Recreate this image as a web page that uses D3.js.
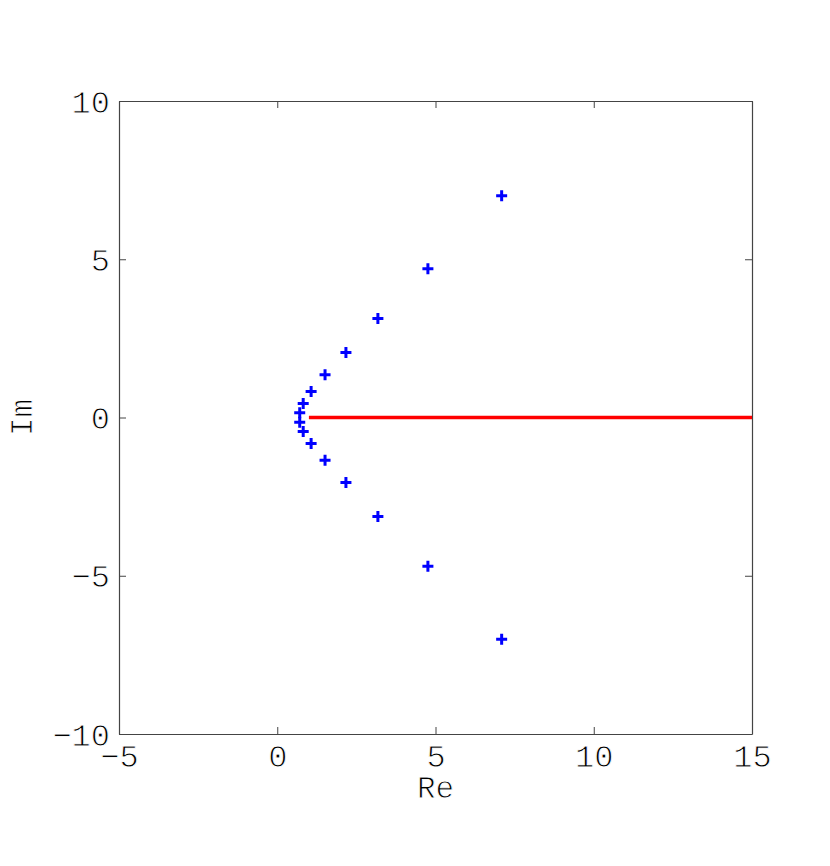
<!DOCTYPE html>
<html>
<head>
<meta charset="utf-8">
<script src="https://cdn.jsdelivr.net/npm/d3@7"></script>
<style>
  body { margin: 0; background: #fff; }
  text { font-family: "Liberation Mono", "DejaVu Sans Mono", monospace; fill: #000; }
  .thin { stroke: #fff; stroke-width: 0.9px; paint-order: fill; }
</style>
</head>
<body>
<svg id="chart"></svg>
<script>
// poles (blue +)
const poleRe = [7.09, 4.76, 3.18, 2.17, 1.51, 1.07, 0.82, 0.71, 0.71, 0.82, 1.07, 1.51, 2.17, 3.18, 4.76, 7.09];
const poleIm = [7.01, 4.70, 3.13, 2.05, 1.35, 0.82, 0.44, 0.15, -0.15, -0.44, -0.82, -1.35, -2.05, -3.13, -4.70, -7.01];
// branch cut (red line) on the real axis
const cutRe = [1, 15];
const cutIm = [0, 0];
const xTicks = [-5, 0, 5, 10, 15];
const yTicks = [-10, -5, 0, 5, 10];

const W = 830, H = 866;
const margin = { top: 101, left: 119, right: 78, bottom: 132 };
const width = W - margin.left - margin.right;
const height = H - margin.top - margin.bottom;

const svg = d3.select('#chart').attr('width', W).attr('height', H);
const chart = svg.append('g').attr('transform', `translate(${margin.left},${margin.top})`);

const x = d3.scaleLinear().domain([-5, 15]).range([0, width]);
const y = d3.scaleLinear().domain([-10, 10]).range([height, 0]);

const fmt = d => d < 0 ? '\u2212' + Math.abs(d) : String(d);
const tickLen = 7;

// axes with inward ticks on all four sides
const axBottom = chart.append('g').attr('transform', `translate(0,${height})`)
  .call(d3.axisBottom(x).tickValues(xTicks).tickSizeInner(-tickLen).tickSizeOuter(0).tickPadding(10).tickFormat(fmt));
const axLeft = chart.append('g')
  .call(d3.axisLeft(y).tickValues(yTicks).tickSizeInner(-tickLen).tickSizeOuter(0).tickPadding(9).tickFormat(fmt));
const axTop = chart.append('g')
  .call(d3.axisTop(x).tickValues(xTicks).tickSizeInner(-tickLen).tickSizeOuter(0).tickFormat(''));
const axRight = chart.append('g').attr('transform', `translate(${width},0)`)
  .call(d3.axisRight(y).tickValues(yTicks).tickSizeInner(-tickLen).tickSizeOuter(0).tickFormat(''));

[axBottom, axLeft, axTop, axRight].forEach(g => {
  g.select('.domain').attr('stroke', '#444').attr('stroke-width', 1.2);
  g.selectAll('.tick line').attr('stroke', '#444').attr('stroke-width', 1);
  g.selectAll('.tick text')
    .attr('class', 'thin')
    .style('font-size', '32px')
    .style('font-family', '"Liberation Mono", monospace')
    .attr('fill', '#000');
});
axLeft.selectAll('.tick text').attr('dy', '0.35em');

// red line
const line = d3.line().x(d => x(d[0])).y(d => y(d[1]));
chart.append('path')
  .datum(cutRe.map((r, i) => [r, cutIm[i]]))
  .attr('d', line)
  .attr('fill', 'none')
  .attr('stroke', '#ff0000')
  .attr('stroke-width', 3.5);

// blue plus markers
const arm = 5.5;
const pts = chart.append('g');
poleRe.forEach((r, i) => {
  const cx = x(r), cy = y(poleIm[i]);
  pts.append('path')
    .attr('d', `M${cx - arm},${cy}H${cx + arm}M${cx},${cy - arm}V${cy + arm}`)
    .attr('stroke', '#0000ff')
    .attr('stroke-width', 3)
    .attr('fill', 'none');
});

// axis labels
svg.append('text')
  .attr('class', 'thin')
  .attr('x', margin.left + x(5))
  .attr('y', 798)
  .attr('text-anchor', 'middle')
  .style('font-size', '31px')
  .text('Re');

svg.append('text')
  .attr('class', 'thin')
  .attr('transform', `translate(32,${margin.top + y(0)}) rotate(-90)`)
  .attr('text-anchor', 'middle')
  .style('font-size', '31px')
  .text('Im');
</script>
</body>
</html>
